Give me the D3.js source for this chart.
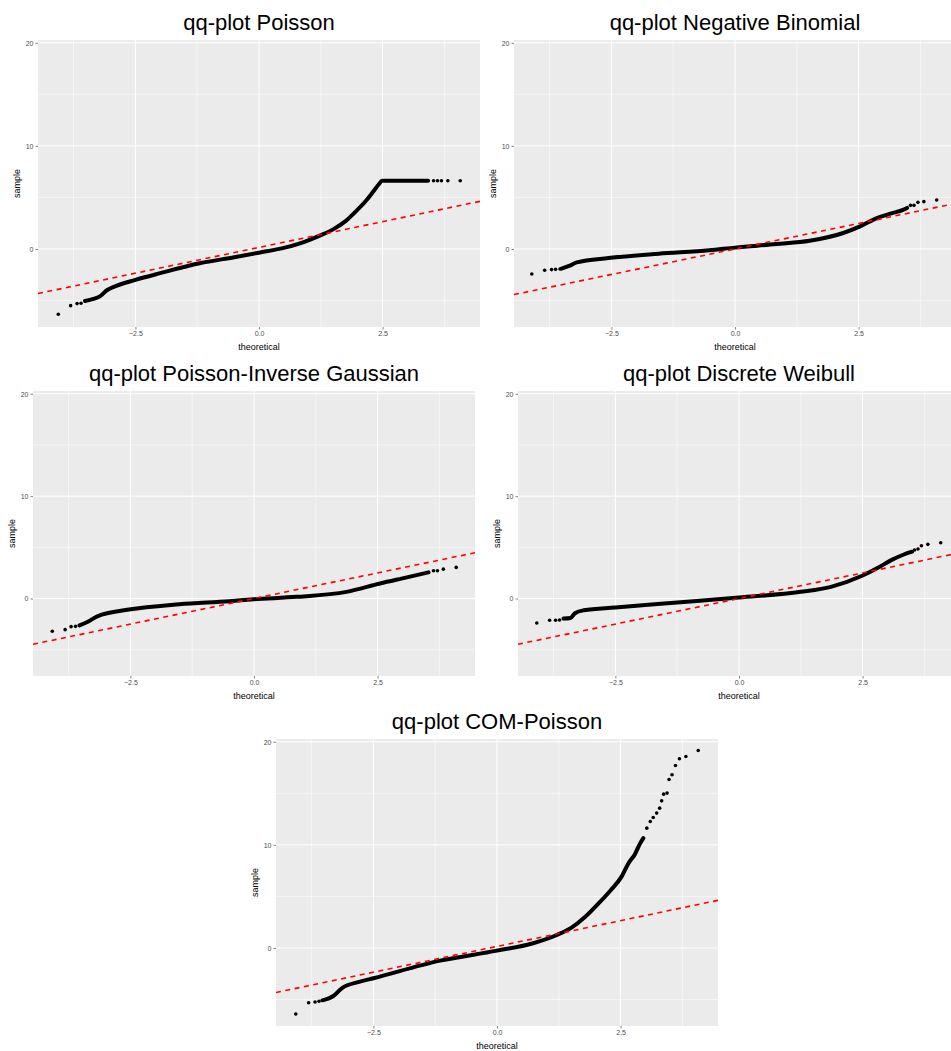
<!DOCTYPE html>
<html>
<head>
<meta charset="utf-8">
<script src="https://cdn.jsdelivr.net/npm/d3@7"></script>
<style>
  body { margin: 0; background: #fff; }
  svg { display: block; font-family: "Liberation Sans", Arial, sans-serif; }
</style>
</head>
<body>
<div id="chart"></div>
<script>
// shared axis settings (same for every panel)
const xDomain = [-4.47, 4.47];
const yDomain = [-7.57, 20.27];
const xMajor = [-2.5, 0, 2.5];
const xMinor = [-3.75, -1.25, 1.25, 3.75];
const yMajor = [0, 10, 20];
const yMinor = [-5, 5, 15];
const titles = ["qq-plot Poisson", "qq-plot Negative Binomial", "qq-plot Poisson-Inverse Gaussian",
                "qq-plot Discrete Weibull", "qq-plot COM-Poisson"];

// qq-line per panel: [intercept, slope]
const refLines = [[0.15, 1.0], [0.0, 0.99], [0.0, 1.0], [0.0, 1.0], [0.15, 1.0]];

// dense part of each point cloud (theoretical, sample)
const poissonDense = [[-3.52,-5.04],[-3.35,-4.85],[-3.22,-4.6],[-3.07,-3.98],[-2.95,-3.7],[-2.5,-3.0],[-2.0,-2.35],
  [-1.2,-1.39],[-0.5,-0.8],[0,-0.36],[0.5,0.1],[0.83,0.55],[1.23,1.3],[1.5,1.9],[1.75,2.7],[1.95,3.6],
  [2.15,4.6],[2.3,5.5],[2.42,6.25],[2.49,6.62],[3.42,6.62]];
const poissonDots = [[-4.06,-6.34],[-3.81,-5.5],[-3.68,-5.3],[-3.6,-5.27],
  [3.53,6.62],[3.61,6.62],[3.69,6.62],[3.82,6.62],[4.07,6.62]];

const negbinDense = [[-3.51,-1.91],[-3.34,-1.62],[-3.2,-1.3],[-2.56,-0.88],[-1.54,-0.46],[-0.52,-0.13],[0,0.13],
  [0.83,0.48],[1.51,0.8],[2.19,1.55],[2.53,2.19],[2.87,3.0],[3.14,3.42],[3.41,3.81],[3.48,3.98]];
const negbinDots = [[-4.11,-2.43],[-3.85,-2.07],[-3.71,-2.0],[-3.63,-1.98],[-3.54,-1.94],
  [3.55,4.23],[3.62,4.23],[3.7,4.52],[3.82,4.59],[4.08,4.75]];

const pigDense = [[-3.53,-2.62],[-3.37,-2.29],[-3.17,-1.74],[-2.53,-1.08],[-1.51,-0.56],[-0.5,-0.26],[0,-0.07],
  [0.86,0.16],[1.87,0.65],[2.55,1.47],[3.09,2.06],[3.53,2.55]];
const pigDots = [[-4.08,-3.2],[-3.82,-3.04],[-3.7,-2.75],[-3.61,-2.72],
  [3.63,2.71],[3.71,2.71],[3.83,2.87],[4.09,3.04]];

const dweibDense = [[-3.55,-1.96],[-3.41,-1.9],[-3.31,-1.41],[-3.14,-1.15],[-2.5,-0.88],[-1.25,-0.39],[0,0.1],
  [1.25,0.65],[1.86,1.14],[2.49,2.22],[2.81,3.0],[3.08,3.75],[3.31,4.25],[3.5,4.57]];
const dweibDots = [[-4.09,-2.39],[-3.83,-2.13],[-3.71,-2.13],[-3.63,-2.1],
  [3.55,4.74],[3.62,4.83],[3.69,5.16],[3.82,5.29],[4.08,5.45]];

const comDense = [[-3.53,-5.08],[-3.31,-4.66],[-3.14,-3.91],[-2.77,-3.27],[-2.5,-2.94],[-1.15,-1.23],[0,-0.26],
  [0.73,0.46],[1.21,1.26],[1.5,1.95],[1.78,3.0],[2.05,4.3],[2.3,5.6],[2.52,6.92],[2.66,8.22],[2.79,9.1],
  [2.89,10.1],[2.96,10.65]];
const comDots = [[-4.07,-6.41],[-3.81,-5.31],[-3.68,-5.24],[-3.6,-5.17],
  [3.03,11.62],[3.1,12.27],[3.16,12.65],[3.23,13.08],[3.29,13.56],[3.33,14.27],[3.37,14.92],[3.44,15.02],
  [3.48,16.34],[3.54,16.8],[3.61,17.7],[3.69,18.35],[3.82,18.57],[4.07,19.15]];

const denseSets = [poissonDense, negbinDense, pigDense, dweibDense, comDense];
const dotSets = [poissonDots, negbinDots, pigDots, dweibDots, comDots];

// panel boxes (plot area) in page pixels
const panels = [
  { x: 38, y: 40, w: 442, h: 287 },
  { x: 514, y: 40, w: 442, h: 287 },
  { x: 33, y: 391, w: 442, h: 285 },
  { x: 518, y: 391, w: 442, h: 285 },
  { x: 276, y: 739, w: 442, h: 287 }
];

const svg = d3.select("#chart").append("svg")
  .attr("width", 951)
  .attr("height", 1051);

svg.append("rect").attr("width", 951).attr("height", 1051).attr("fill", "#fff");

panels.forEach(function(p, i) {
  const g = svg.append("g").attr("transform", "translate(" + p.x + "," + p.y + ")");

  const x = d3.scaleLinear().domain(xDomain).range([0, p.w]);
  const y = d3.scaleLinear().domain(yDomain).range([p.h, 0]);

  // clip so marks stay inside the panel
  g.append("clipPath").attr("id", "clip" + i)
    .append("rect").attr("width", p.w).attr("height", p.h);

  g.append("rect")
    .attr("width", p.w)
    .attr("height", p.h)
    .attr("fill", "#ebebeb");

  // minor grid
  g.selectAll(".xminor").data(xMinor).enter().append("line")
    .attr("x1", d => x(d)).attr("x2", d => x(d))
    .attr("y1", 0).attr("y2", p.h)
    .attr("stroke", "#fff").attr("stroke-width", 0.5);
  g.selectAll(".yminor").data(yMinor).enter().append("line")
    .attr("x1", 0).attr("x2", p.w)
    .attr("y1", d => y(d)).attr("y2", d => y(d))
    .attr("stroke", "#fff").attr("stroke-width", 0.5);

  // major grid
  g.selectAll(".xmajor").data(xMajor).enter().append("line")
    .attr("x1", d => x(d)).attr("x2", d => x(d))
    .attr("y1", 0).attr("y2", p.h)
    .attr("stroke", "#fff").attr("stroke-width", 1);
  g.selectAll(".ymajor").data(yMajor).enter().append("line")
    .attr("x1", 0).attr("x2", p.w)
    .attr("y1", d => y(d)).attr("y2", d => y(d))
    .attr("stroke", "#fff").attr("stroke-width", 1);

  // axes
  const xAxis = g.append("g")
    .attr("transform", "translate(0," + p.h + ")")
    .call(d3.axisBottom(x).tickValues(xMajor).tickFormat(d3.format(".1f")).tickSize(2.5).tickPadding(2));
  const yAxis = g.append("g")
    .call(d3.axisLeft(y).tickValues(yMajor).tickFormat(d3.format("d")).tickSize(2.5).tickPadding(2));
  [xAxis, yAxis].forEach(function(a) {
    a.select(".domain").remove();
    a.selectAll(".tick line").attr("stroke", "#333").attr("stroke-width", 0.6);
    a.selectAll(".tick text").attr("fill", "#4d4d4d")
      .style("font-size", "7px")
      .style("font-family", "'Liberation Sans', Arial, sans-serif");
  });

  // axis titles
  g.append("text")
    .attr("x", p.w / 2)
    .attr("y", p.h + 23)
    .attr("text-anchor", "middle")
    .style("font-size", "9px")
    .text("theoretical");
  g.append("text")
    .attr("transform", "translate(" + (-18) + "," + (p.h / 2) + ") rotate(-90)")
    .attr("text-anchor", "middle")
    .style("font-size", "9px")
    .text("sample");

  // plot title
  g.append("text")
    .attr("x", p.w / 2)
    .attr("y", -10)
    .attr("text-anchor", "middle")
    .style("font-size", "22px")
    .text(titles[i]);

  const plot = g.append("g").attr("clip-path", "url(#clip" + i + ")");

  // dense point cloud as a thick run of points
  const line = d3.line().curve(d3.curveMonotoneX).x(d => x(d[0])).y(d => y(d[1]));
  plot.append("path")
    .datum(denseSets[i])
    .attr("d", line)
    .attr("fill", "none")
    .attr("stroke", "#000")
    .attr("stroke-width", 4)
    .attr("stroke-linecap", "round")
    .attr("stroke-linejoin", "round");

  plot.selectAll(".dot")
    .data(dotSets[i])
    .enter().append("circle")
    .attr("cx", d => x(d[0]))
    .attr("cy", d => y(d[1]))
    .attr("r", 1.8)
    .attr("fill", "#000");

  // reference qq-line
  const ab = refLines[i];
  plot.append("line")
    .attr("x1", x(xDomain[0])).attr("y1", y(ab[0] + ab[1] * xDomain[0]))
    .attr("x2", x(xDomain[1])).attr("y2", y(ab[0] + ab[1] * xDomain[1]))
    .attr("stroke", "red")
    .attr("stroke-width", 1.6)
    .attr("stroke-dasharray", "5,4.5");
});
</script>
</body>
</html>
